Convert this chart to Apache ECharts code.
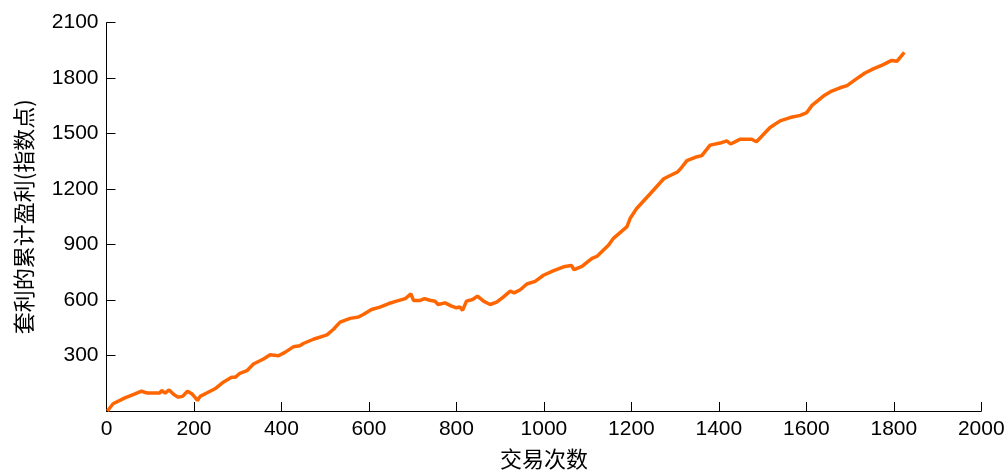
<!DOCTYPE html>
<html>
<head>
<meta charset="utf-8">
<script src="https://cdn.jsdelivr.net/npm/echarts@6/dist/echarts.min.js"></script>
<style>
html,body{margin:0;padding:0;background:#fff;}
#chart{width:1008px;height:475px;}
</style>
</head>
<body>
<div id="chart"></div>
<script>
const tradeCount = [2,15,42,61,80,92,122,126,134,143,154,164,174,185,195,202,208,214,229,248,267,286,294,305,321,336,359,374,393,408,427,442,450,473,504,519,534,557,576,587,606,625,644,663,683,696,702,716,727,739,751,758,774,789,800,808,814,823,837,848,862,877,892,907,923,932,946,961,980,999,1021,1048,1063,1069,1087,1110,1121,1148,1159,1190,1197,1212,1243,1274,1297,1305,1312,1327,1346,1361,1380,1403,1418,1427,1449,1475,1486,1517,1540,1563,1586,1601,1613,1639,1658,1677,1693,1712,1734,1753,1776,1795,1807,1824];
const cumProfit = [0,39,71,89,107,98,98,111,97,114,89,75,79,107,93,75,57,79,97,120,156,182,182,204,218,254,281,304,299,317,347,353,365,388,412,442,481,501,508,522,549,562,580,594,608,633,597,597,608,599,594,576,585,567,558,562,544,594,603,621,594,576,589,616,648,639,656,687,701,734,758,782,787,764,782,826,836,898,934,997,1041,1095,1175,1256,1283,1292,1309,1354,1372,1381,1438,1449,1461,1444,1470,1470,1456,1533,1569,1587,1599,1614,1653,1703,1730,1748,1760,1792,1828,1850,1873,1896,1891,1939];
const xTicks = [0,200,400,600,800,1000,1200,1400,1600,1800,2000];
const yTicks = [0,300,600,900,1200,1500,1800,2100];

const chart = echarts.init(document.getElementById('chart'));
const tickFont = {fontFamily:'Liberation Sans, Arial, sans-serif', fontSize:21, color:'#000'};
chart.setOption({
  animation:false,
  grid:{left:106.5, right:26.7, top:22.7, bottom:61, containLabel:false},
  xAxis:{
    type:'value', min:xTicks[0], max:xTicks[xTicks.length-1], interval:200,
    name:'交易次数', nameLocation:'middle', nameGap:37,
    nameTextStyle:{fontFamily:'Noto Sans CJK SC', fontSize:22, color:'#000'},
    axisLine:{show:true, onZero:false, lineStyle:{color:'#000', width:1}},
    axisTick:{show:true, inside:true, length:9, lineStyle:{color:'#000'}},
    axisLabel:Object.assign({margin:8, formatter:function(v){return String(v);}}, tickFont),
    splitLine:{show:false}
  },
  yAxis:{
    type:'value', min:yTicks[0], max:yTicks[yTicks.length-1], interval:300,
    name:'套利的累计盈利(指数点)', nameLocation:'middle', nameGap:72,
    nameTextStyle:{fontFamily:'Noto Sans CJK SC', fontSize:22, color:'#000'},
    axisLine:{show:true, onZero:false, lineStyle:{color:'#000', width:1}},
    axisTick:{show:true, inside:true, length:9, lineStyle:{color:'#000'}},
    axisLabel:Object.assign({margin:8, formatter:function(v){return v===0?'':String(v);}}, tickFont),
    splitLine:{show:false}
  },
  series:[{
    type:'line',
    data:tradeCount.map((x,i)=>[x,cumProfit[i]]),
    showSymbol:false,
    lineStyle:{color:'#FF6600', width:3.5},
    itemStyle:{color:'#FF6600'}
  }]
});
</script>
</body>
</html>
